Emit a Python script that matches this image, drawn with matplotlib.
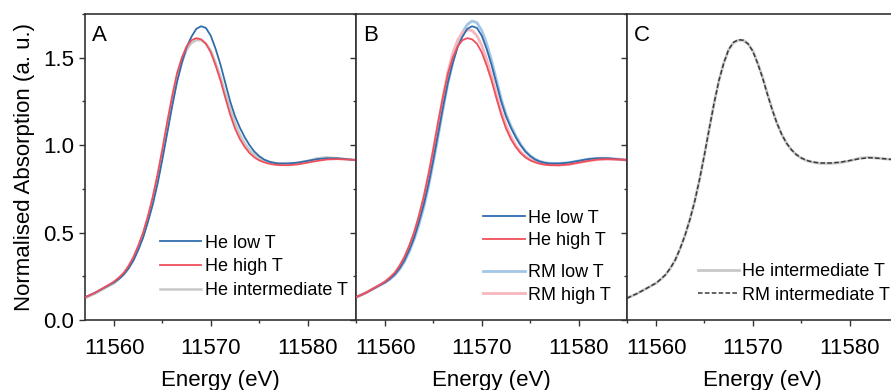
import numpy as np
import matplotlib
matplotlib.use('Agg')
import matplotlib.pyplot as plt
from matplotlib.ticker import MultipleLocator

plt.rcParams['font.family'] = ['Liberation Sans', 'DejaVu Sans']

# energy grid (eV), finer steps through the edge and white line
energy = [11557, 11558, 11559, 11559.5, 11560, 11560.5, 11561, 11561.5, 11562, 11562.5,
          11563, 11563.5, 11564, 11564.5, 11565, 11565.5, 11566, 11566.5, 11567, 11567.5,
          11568, 11568.5, 11569, 11569.5, 11570, 11570.5, 11571, 11571.5, 11572, 11572.5,
          11573, 11573.5, 11574, 11574.5, 11575, 11575.5, 11576, 11576.5, 11577, 11578,
          11579, 11580, 11581, 11582, 11583, 11584, 11585]

he_low = [0.13, 0.155, 0.185, 0.20, 0.215, 0.235, 0.26, 0.295, 0.34, 0.40,
          0.47, 0.56, 0.66, 0.78, 0.92, 1.07, 1.22, 1.36, 1.47, 1.56,
          1.62, 1.665, 1.68, 1.67, 1.625, 1.55, 1.46, 1.355, 1.25, 1.165,
          1.10, 1.045, 1.00, 0.963, 0.937, 0.918, 0.906, 0.899, 0.895, 0.895,
          0.90, 0.91, 0.92, 0.925, 0.925, 0.92, 0.915]
he_high = [0.13, 0.155, 0.187, 0.203, 0.22, 0.243, 0.27, 0.31, 0.36, 0.425,
           0.50, 0.595, 0.705, 0.835, 0.98, 1.135, 1.28, 1.41, 1.50, 1.565,
           1.60, 1.612, 1.605, 1.58, 1.53, 1.455, 1.37, 1.27, 1.175, 1.095,
           1.035, 0.99, 0.955, 0.93, 0.913, 0.902, 0.894, 0.889, 0.886, 0.885,
           0.89, 0.90, 0.91, 0.918, 0.92, 0.918, 0.915]
he_int = [0.125, 0.15, 0.18, 0.195, 0.21, 0.233, 0.26, 0.298, 0.345, 0.41,
          0.485, 0.575, 0.68, 0.805, 0.945, 1.095, 1.24, 1.37, 1.47, 1.545,
          1.585, 1.60, 1.60, 1.58, 1.54, 1.47, 1.39, 1.295, 1.205, 1.125,
          1.06, 1.01, 0.973, 0.945, 0.926, 0.913, 0.905, 0.899, 0.896, 0.895,
          0.90, 0.91, 0.925, 0.93, 0.925, 0.92, 0.915]
rm_low = [0.13, 0.155, 0.184, 0.199, 0.214, 0.233, 0.257, 0.29, 0.333, 0.39,
          0.46, 0.545, 0.645, 0.765, 0.905, 1.055, 1.21, 1.355, 1.475, 1.575,
          1.645, 1.69, 1.71, 1.70, 1.655, 1.58, 1.485, 1.375, 1.265, 1.175,
          1.11, 1.055, 1.005, 0.967, 0.94, 0.92, 0.907, 0.90, 0.896, 0.895,
          0.90, 0.91, 0.92, 0.925, 0.925, 0.92, 0.915]
rm_high = [0.13, 0.155, 0.186, 0.202, 0.219, 0.242, 0.268, 0.307, 0.356, 0.42,
           0.495, 0.59, 0.70, 0.83, 0.975, 1.13, 1.28, 1.42, 1.525, 1.60,
           1.645, 1.66, 1.655, 1.625, 1.57, 1.49, 1.40, 1.295, 1.195, 1.115,
           1.05, 1.00, 0.963, 0.937, 0.918, 0.905, 0.896, 0.89, 0.887, 0.886,
           0.89, 0.90, 0.91, 0.918, 0.92, 0.918, 0.915]
rm_int = [0.125, 0.15, 0.18, 0.196, 0.211, 0.234, 0.26, 0.298, 0.345, 0.41,
          0.485, 0.575, 0.68, 0.805, 0.945, 1.095, 1.24, 1.37, 1.47, 1.547,
          1.588, 1.603, 1.60, 1.58, 1.537, 1.467, 1.386, 1.292, 1.203, 1.124,
          1.06, 1.01, 0.973, 0.946, 0.927, 0.914, 0.906, 0.901, 0.898, 0.898,
          0.902, 0.912, 0.922, 0.928, 0.925, 0.92, 0.915]

c_blue = '#2f6eaa'
c_red = '#ef4f5c'
c_gray = '#c8c8c8'
c_lblue = '#a3c5e6'
c_pink = '#f8b7bf'

fig = plt.figure(figsize=(8.91, 3.9), dpi=100)
W, H = 891, 390
ax_w = 271 / W
bottom = 1 - 320 / H
height = (320 - 14) / H
lefts = [85 / W, 356 / W, 627 / W]
axes = [fig.add_axes([l, bottom, ax_w, height]) for l in lefts]

for i, ax in enumerate(axes):
    ax.set_xlim(11557, 11585)
    ax.set_ylim(0, 1.75)
    ax.xaxis.set_major_locator(MultipleLocator(10))
    ax.xaxis.set_minor_locator(MultipleLocator(5))
    ax.yaxis.set_major_locator(MultipleLocator(0.5))
    ax.yaxis.set_minor_locator(MultipleLocator(0.25))
    ax.tick_params(which='both', direction='out', top=False, right=False,
                   labelsize=16, pad=4, width=1.0, color='#333333')
    ax.tick_params(axis='x', which='both', pad=9)
    ax.tick_params(which='major', length=4)
    ax.tick_params(which='minor', length=2.5)
    for sp in ax.spines.values():
        sp.set_linewidth(1.2)
        sp.set_color('#333333')
    if i > 0:
        ax.tick_params(labelleft=False)
    ax.set_xlabel('Energy (eV)', fontsize=16, labelpad=8)
    ax.text(0.025, 0.965, 'ABC'[i], transform=ax.transAxes, fontsize=16,
            va='top', ha='left')

axes[0].set_ylabel('Normalised Absorption (a. u.)', fontsize=16, labelpad=6)

leg_kw = dict(frameon=False, fontsize=13, handlelength=2.3, handletextpad=0.2,
              borderpad=0.2)

# panel A
ax = axes[0]
ax.plot(energy, he_int, color=c_gray, lw=1.8, label='He intermediate T', zorder=2)
ax.plot(energy, he_low, color=c_blue, lw=1.3, label='He low T', zorder=3)
ax.plot(energy, he_high, color=c_red, lw=1.3, label='He high T', zorder=4)
h, l = ax.get_legend_handles_labels()
ax.legend([h[1], h[2], h[0]], [l[1], l[2], l[0]], loc='lower left',
          bbox_to_anchor=(0.229, 0.027), labelspacing=0.37, **leg_kw)

# panel B
ax = axes[1]
l3, = ax.plot(energy, rm_low, color=c_lblue, lw=2.0, label='RM low T', zorder=2)
l4, = ax.plot(energy, rm_high, color=c_pink, lw=2.0, label='RM high T', zorder=2)
l1, = ax.plot(energy, he_low, color=c_blue, lw=1.3, label='He low T', zorder=3)
l2, = ax.plot(energy, he_high, color=c_red, lw=1.3, label='He high T', zorder=4)
leg1 = ax.legend([l1, l2], ['He low T', 'He high T'], loc='lower left',
                 bbox_to_anchor=(0.422, 0.19), labelspacing=0.3, **leg_kw)
ax.add_artist(leg1)
ax.legend([l3, l4], ['RM low T', 'RM high T'], loc='lower left',
          bbox_to_anchor=(0.422, 0.012), labelspacing=0.3, **leg_kw)

# panel C
ax = axes[2]
ax.plot(energy, he_int, color=c_gray, lw=2.0, label='He intermediate T')
ax.plot(energy, rm_int, color='#3a3a3a', lw=1.1, ls=(0, (3, 1.5)),
        label='RM intermediate T')
ax.legend(loc='lower left', bbox_to_anchor=(0.215, 0.012), labelspacing=0.37,
          **dict(leg_kw, handletextpad=0.15))

fig.savefig('out.png', dpi=100)
